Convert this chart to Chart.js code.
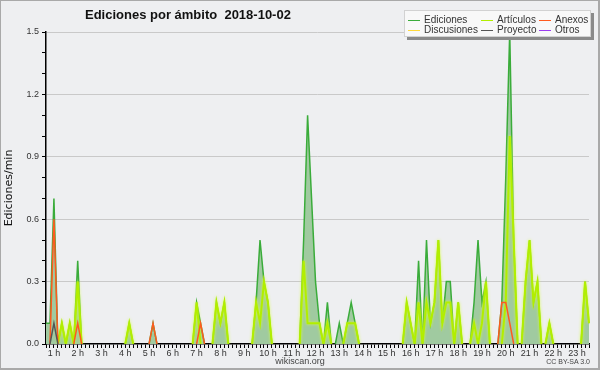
<!DOCTYPE html>
<html>
<head>
<meta charset="utf-8">
<script src="https://cdn.jsdelivr.net/npm/chart.js@4/dist/chart.umd.min.js"></script>
<style>
html, body { margin: 0; padding: 0; background: #eeeff1; }
#wrap { position: relative; width: 600px; height: 370px; overflow: hidden; font-family: "Liberation Sans", sans-serif; }
#frame { position: absolute; left: 0; top: 0; width: 600px; height: 370px; box-sizing: border-box;
         border: 1px solid #a9a9a9; border-right-width: 2px; border-bottom-width: 2px; pointer-events: none; }
#title { position: absolute; left: 85px; top: 7px; font-weight: bold; font-size: 13px; white-space: pre; color: #111; }
#legend { position: absolute; left: 404px; top: 10px; width: 187px; height: 27px; box-sizing: border-box;
          background: #f8f8f8; border: 1px solid #d2d2d2; box-shadow: 3px 3px 0 #8a8a8a; }
.item { position: absolute; font-size: 10px; line-height: 12px; white-space: nowrap; color: #333; }
.item i { position: absolute; left: -16px; top: 6px; width: 12px; height: 1px; }
#site { position: absolute; left: 0; width: 600px; top: 356px; text-align: center; font-size: 9px; color: #444; }
#lic { position: absolute; right: 10px; top: 358px; font-size: 7px; color: #444; }
</style>
</head>
<body>
<div id="wrap">
  <canvas id="chart" width="600" height="370"></canvas>
  <div id="title">Ediciones por ámbito  2018-10-02</div>
  <div id="legend"></div>
  <div id="site">wikiscan.org</div>
  <div id="lic">CC BY-SA 3.0</div>
  <div id="frame"></div>
</div>
<script>
// 10 minute slots, first one at 0:40, last one at 23:30
const slotStart = 40;
const hourLabels = ['1 h', '2 h', '3 h', '4 h', '5 h', '6 h', '7 h', '8 h', '9 h', '10 h', '11 h', '12 h',
                    '13 h', '14 h', '15 h', '16 h', '17 h', '18 h', '19 h', '20 h', '21 h', '22 h', '23 h'];
const yTicks = [0, 0.3, 0.6, 0.9, 1.2, 1.5];

// edits per minute, one row per hour (the first row is 0:40 and 0:50)
const ediciones = [
  0.1, 0.1,
  0.7, 0, 0.1, 0, 0.1, 0,
  0.4, 0, 0, 0, 0, 0,
  0, 0, 0, 0, 0, 0,
  0, 0.1, 0, 0, 0, 0,
  0, 0.1, 0, 0, 0, 0,
  0, 0, 0, 0, 0, 0,
  0.2, 0.1, 0, 0, 0, 0.2,
  0.1, 0.2, 0, 0, 0, 0,
  0, 0, 0, 0.2, 0.5, 0.3,
  0.2, 0, 0, 0, 0, 0,
  0, 0, 0, 0.5, 1.1, 0.7,
  0.3, 0.1, 0, 0.2, 0, 0,
  0.1, 0, 0.1, 0.2, 0.1, 0,
  0, 0, 0, 0, 0, 0,
  0, 0, 0, 0, 0, 0.2,
  0.1, 0, 0.4, 0, 0.5, 0.1,
  0.2, 0.5, 0.1, 0.3, 0.3, 0,
  0.2, 0, 0, 0, 0.2, 0.5,
  0.2, 0.3, 0, 0, 0, 0.2,
  0.8, 1.5, 0.5, 0, 0, 0.3,
  0.5, 0.2, 0.3, 0, 0, 0.1,
  0, 0, 0, 0, 0, 0,
  0, 0, 0.3, 0.1
];
const articulos = [
  0, 0,
  0, 0, 0.1, 0, 0.1, 0,
  0.3, 0, 0, 0, 0, 0,
  0, 0, 0, 0, 0, 0,
  0, 0.1, 0, 0, 0, 0,
  0, 0, 0, 0, 0, 0,
  0, 0, 0, 0, 0, 0,
  0.2, 0, 0, 0, 0, 0.2,
  0.1, 0.2, 0, 0, 0, 0,
  0, 0, 0, 0.2, 0.1, 0.3,
  0.2, 0, 0, 0, 0, 0,
  0, 0, 0, 0.4, 0.1, 0.1,
  0.1, 0.1, 0, 0.1, 0, 0,
  0, 0, 0.1, 0.1, 0.1, 0,
  0, 0, 0, 0, 0, 0,
  0, 0, 0, 0, 0, 0.2,
  0.1, 0, 0.2, 0, 0.2, 0.1,
  0.2, 0.5, 0.1, 0.2, 0.2, 0,
  0.2, 0, 0, 0, 0.1, 0,
  0.1, 0.3, 0, 0, 0, 0,
  0.2, 1.0, 0.5, 0, 0, 0.3,
  0.5, 0.2, 0.3, 0, 0, 0.1,
  0, 0, 0, 0, 0, 0,
  0, 0, 0.3, 0.1
];
const anexos = [
  0, 0,
  0.6, 0, 0, 0, 0, 0,
  0.1, 0, 0, 0, 0, 0,
  0, 0, 0, 0, 0, 0,
  0, 0, 0, 0, 0, 0,
  0, 0.1, 0, 0, 0, 0,
  0, 0, 0, 0, 0, 0,
  0, 0.1, 0, 0, 0, 0,
  0, 0, 0, 0, 0, 0,
  0, 0, 0, 0, 0, 0,
  0, 0, 0, 0, 0, 0,
  0, 0, 0, 0, 0, 0,
  0, 0, 0, 0, 0, 0,
  0, 0, 0, 0, 0, 0,
  0, 0, 0, 0, 0, 0,
  0, 0, 0, 0, 0, 0,
  0, 0, 0, 0, 0, 0,
  0, 0, 0, 0, 0, 0,
  0, 0, 0, 0, 0, 0,
  0, 0, 0, 0, 0, 0.2,
  0.2, 0.1, 0, 0, 0, 0,
  0, 0, 0, 0, 0, 0,
  0, 0, 0, 0, 0, 0,
  0, 0, 0, 0
];
const proyecto = [
  0, 0,
  0.1, 0, 0, 0, 0, 0,
  0, 0, 0, 0, 0, 0,  0, 0, 0, 0, 0, 0,  0, 0, 0, 0, 0, 0,  0, 0, 0, 0, 0, 0,
  0, 0, 0, 0, 0, 0,  0, 0, 0, 0, 0, 0,  0, 0, 0, 0, 0, 0,  0, 0, 0, 0, 0, 0,
  0, 0, 0, 0, 0, 0,  0, 0, 0, 0, 0, 0,  0, 0, 0, 0, 0, 0,  0, 0, 0, 0, 0, 0,
  0, 0, 0, 0, 0, 0,  0, 0, 0, 0, 0, 0,  0, 0, 0, 0, 0, 0,  0, 0, 0, 0, 0, 0,
  0, 0, 0, 0, 0, 0,  0, 0, 0, 0, 0, 0,  0, 0, 0, 0, 0, 0,  0, 0, 0, 0, 0, 0,
  0, 0, 0, 0, 0, 0,
  0, 0, 0, 0
];
const discusiones = [
  0, 0,
  0, 0, 0, 0, 0, 0,  0, 0, 0, 0, 0, 0,  0, 0, 0, 0, 0, 0,  0, 0, 0, 0, 0, 0,
  0, 0, 0, 0, 0, 0,  0, 0, 0, 0, 0, 0,  0, 0, 0, 0, 0, 0,  0, 0, 0, 0, 0, 0,
  0, 0, 0, 0, 0, 0,  0, 0, 0, 0, 0, 0,  0, 0, 0, 0, 0, 0,  0, 0, 0, 0, 0, 0,
  0, 0, 0, 0, 0, 0,  0, 0, 0, 0, 0, 0,  0, 0, 0, 0, 0, 0,  0, 0, 0, 0, 0, 0,
  0, 0, 0, 0, 0, 0,  0, 0, 0, 0, 0, 0,  0, 0, 0, 0, 0, 0,  0, 0, 0, 0, 0, 0,
  0, 0, 0, 0, 0, 0,  0, 0, 0, 0, 0, 0,
  0, 0, 0, 0
];
const otros = [
  0, 0,
  0, 0, 0, 0, 0, 0,  0, 0, 0, 0, 0, 0,  0, 0, 0, 0, 0, 0,  0, 0, 0, 0, 0, 0,
  0, 0, 0, 0, 0, 0,  0, 0, 0, 0, 0, 0,  0, 0, 0, 0, 0, 0,  0, 0, 0, 0, 0, 0,
  0, 0, 0, 0, 0, 0,  0, 0, 0, 0, 0, 0,  0, 0, 0, 0, 0, 0,  0, 0, 0, 0, 0, 0,
  0, 0, 0, 0, 0, 0,  0, 0, 0, 0, 0, 0,  0, 0, 0, 0, 0, 0,  0, 0, 0, 0, 0, 0,
  0, 0, 0, 0, 0, 0,  0, 0, 0, 0, 0, 0,  0, 0, 0, 0, 0, 0,  0, 0, 0, 0, 0, 0,
  0, 0, 0, 0, 0, 0,  0, 0, 0, 0, 0, 0,
  0, 0, 0, 0
];

const slots = ediciones.map((v, i) => {
    var t = slotStart + 10 * i;
    return Math.floor(t / 60) + ':' + String(t % 60).padStart(2, '0');
});

// don't draw flat segments lying on the axis
const hideFlat = ctx => (ctx.p0.parsed.y === 0 && ctx.p1.parsed.y === 0) ? 'rgba(0,0,0,0)' : undefined;

const series = [
    { label: 'Ediciones', data: ediciones, color: '#3aac3a', order: 10, fill: true },
    { label: 'Artículos', data: articulos, color: '#b2ee00', order: 5, glow: 'rgba(215,255,60,0.9)' },
    { label: 'Anexos', data: anexos, color: '#ff5a1e', order: 3 },
    { label: 'Discusiones', data: discusiones, color: '#ffd83a', order: 4 },
    { label: 'Proyecto', data: proyecto, color: '#555555', order: 1 },
    { label: 'Otros', data: otros, color: '#9b3cf0', order: 2 }
];

// soft halo around some lines, like the original renderer
const glowPlugin = {
    id: 'glow',
    beforeDatasetDraw(chart, args) {
        var ds = chart.data.datasets[args.index];
        if (!ds.glow) return;
        chart.ctx.save();
        chart.ctx.shadowColor = ds.glow;
        chart.ctx.shadowBlur = 3;
    },
    afterDatasetDraw(chart, args) {
        if (chart.data.datasets[args.index].glow) chart.ctx.restore();
    }
};

// legend: 3 columns x 2 rows
var legendBox = document.getElementById('legend');
var colX = [19, 92, 150];
var legendOrder = [0, 1, 2, 3, 4, 5];
legendOrder.forEach(function (k, n) {
    var s = series[k];
    var el = document.createElement('div');
    el.className = 'item';
    el.style.left = colX[n % 3] + 'px';
    el.style.top = (2.5 + 10 * Math.floor(n / 3)) + 'px';
    el.innerHTML = '<i style="background:' + s.color + '"></i>' + s.label;
    legendBox.appendChild(el);
});

Chart.defaults.font.family = '"Liberation Sans", sans-serif';
Chart.defaults.color = '#333';

new Chart(document.getElementById('chart'), {
    type: 'line',
    data: {
        labels: slots,
        datasets: series.map(s => ({
            label: s.label,
            data: s.data,
            borderColor: s.color,
            backgroundColor: s.fill ? '#a0caa0' : s.color,
            fill: s.fill ? 'origin' : false,
            borderWidth: s.glow ? 2 : 1.5,
            order: s.order,
            glow: s.glow,
            segment: { borderColor: hideFlat }
        }))
    },
    plugins: [glowPlugin],
    options: {
        responsive: false,
        animation: false,
        devicePixelRatio: 1,
        layout: { padding: { top: 32, right: 11, left: 0, bottom: 0 } },
        elements: { point: { radius: 0 }, line: { tension: 0 } },
        plugins: { legend: { display: false }, tooltip: { enabled: false } },
        scales: {
            x: {
                type: 'category',
                afterFit: s => { s.height = 26; },
                border: { color: '#000', width: 1.5 },
                grid: { drawOnChartArea: false, drawTicks: true, tickLength: 4, tickColor: '#000' },
                ticks: {
                    autoSkip: false, maxRotation: 0, minRotation: 0, padding: 0,
                    font: { size: 9 }, color: '#333',
                    callback: function (value, index) {
                        var t = slotStart + 10 * index;
                        return t % 60 === 0 ? hourLabels[t / 60 - 1] : '';
                    }
                }
            },
            y: {
                min: 0, max: 1.5,
                afterFit: s => { s.width = 46; },
                border: { color: '#000', width: 1.5 },
                grid: {
                    color: ctx => (ctx.tick && ctx.tick.value > 0 && yTicks.includes(Math.round(ctx.tick.value * 10) / 10)) ? '#c9c9c9' : 'rgba(0,0,0,0)',
                    tickColor: '#000', tickLength: 4
                },
                ticks: {
                    stepSize: 0.1, padding: 3, font: { size: 9 }, color: '#333',
                    callback: v => yTicks.includes(Math.round(v * 10) / 10) ? v.toFixed(1) : ''
                },
                title: {
                    display: true, text: 'Ediciones/min', color: '#111',
                    font: { family: '"DejaVu Sans", sans-serif', size: 11 },
                    padding: { top: 3, bottom: 0 }
                }
            }
        }
    }
});
</script>
</body>
</html>
